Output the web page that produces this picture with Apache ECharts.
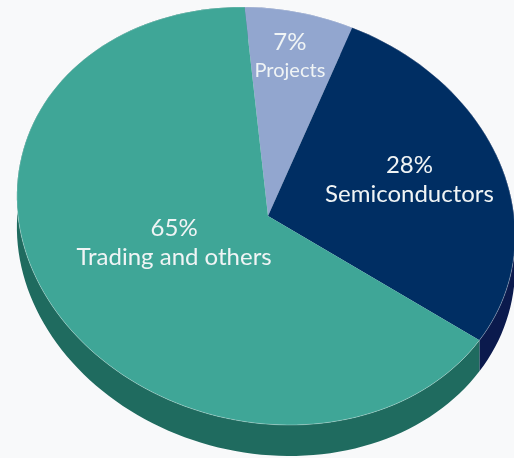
<!DOCTYPE html>
<html>
<head>
<meta charset="utf-8">
<script src="https://cdn.jsdelivr.net/npm/echarts@6/dist/echarts.min.js"></script>
<style>
  html, body { margin: 0; padding: 0; background: #f8f9fa; }
  #chart { width: 514px; height: 458px; }
</style>
</head>
<body>
<div id="chart"></div>
<script>
// data
var categories = ['Projects', 'Semiconductors', 'Trading and others'];
var values = [7, 28, 65];

// look
var topColors = ['#92a6cf', '#002e63', '#3fa697'];
var sideColors = ['#6f82ac', '#0b1a4d', '#1f6b5f'];
// [fraction along slice, fraction of radius] for the two-line label
var labelSpots = [[0.476, 0.782], [0.476, 0.62], [0.535, 0.403]];
var labelSizes = [[24, 20], [24, 24], [24, 24]];

// tilted disc geometry (sheared ellipse, seen slightly from the right)
var CX = 266, CY = 216, RX = 248, RY = 209, SHEAR = 0.113;
var APEX_X = 268;
var DEPTH = 31;
var START = -89.5; // degrees, clockwise on screen

var total = values.reduce(function (s, v) { return s + v; }, 0);
var bounds = [];
var acc = 0;
values.forEach(function (v) {
  var t0 = START + acc / total * 360;
  acc += v;
  bounds.push([t0, START + acc / total * 360]);
});

function pt(t, r, cy) {
  var a = t * Math.PI / 180;
  var dy = RY * r * Math.sin(a);
  return [CX + RX * r * Math.cos(a) + SHEAR * dy, cy + dy];
}

function arc(t0, t1, cy) {
  var pts = [];
  var n = Math.max(4, Math.ceil(Math.abs(t1 - t0) / 2));
  for (var i = 0; i <= n; i++) {
    pts.push(pt(t0 + (t1 - t0) * i / n, 1, cy));
  }
  return pts;
}

var chart = echarts.init(document.getElementById('chart'));

chart.setOption({
  backgroundColor: '#f8f9fa',
  animation: false,
  series: [
    {
      // outer wall
      type: 'custom',
      coordinateSystem: 'none',
      z: 1,
      data: values,
      renderItem: function (params, api) {
        var ang = bounds[params.dataIndex];
        var top = arc(ang[0], ang[1], CY);
        var bottom = arc(ang[1], ang[0], CY + DEPTH);
        return {
          type: 'polygon',
          shape: { points: top.concat(bottom) },
          style: { fill: sideColors[params.dataIndex] }
        };
      }
    },
    {
      // top face and labels
      type: 'custom',
      coordinateSystem: 'none',
      z: 2,
      data: values,
      renderItem: function (params, api) {
        var i = params.dataIndex;
        var v = api.value(0);
        var ang = bounds[i];
        var rim = arc(ang[0], ang[1], CY);
        var lp = pt(ang[0] + (ang[1] - ang[0]) * labelSpots[i][0], labelSpots[i][1], CY);
        var font = 'px Lato, "Noto Sans", sans-serif';
        return {
          type: 'group',
          children: [
            {
              type: 'polygon',
              shape: { points: [[APEX_X, CY]].concat(rim) },
              style: { fill: topColors[i] }
            },
            {
              type: 'polyline',
              shape: { points: rim },
              style: { stroke: 'rgba(255,255,255,0.28)', lineWidth: 1, fill: null }
            },
            {
              type: 'text',
              x: lp[0],
              y: lp[1] - 14.5,
              style: {
                text: Math.round(v / total * 100) + '%',
                fill: '#f0f4f5',
                font: labelSizes[i][0] + font,
                align: 'center',
                verticalAlign: 'middle'
              }
            },
            {
              type: 'text',
              x: lp[0],
              y: lp[1] + 14.5,
              style: {
                text: categories[i],
                fill: '#f0f4f5',
                font: labelSizes[i][1] + font,
                align: 'center',
                verticalAlign: 'middle'
              }
            }
          ]
        };
      }
    }
  ]
});
</script>
</body>
</html>
